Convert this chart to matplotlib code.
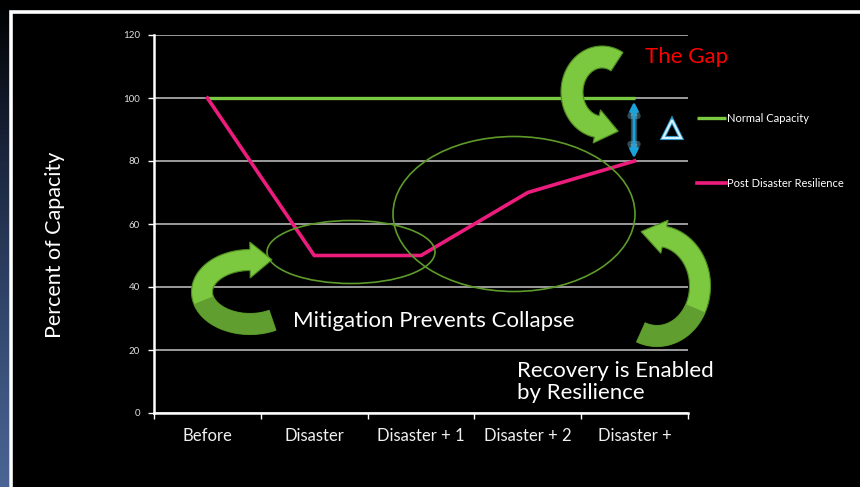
"""Normal capacity vs post-disaster resilience, dark slide-style chart."""

import numpy as np
import matplotlib
matplotlib.use("Agg")
import matplotlib.pyplot as plt
from matplotlib.patches import Ellipse, Polygon, FancyArrowPatch

plt.rcParams["font.family"] = ["Lato", "DejaVu Sans"]

STAGES = ["Before", "Disaster", "Disaster + 1", "Disaster + 2", "Disaster +"]
NORMAL = [100, 100, 100, 100, 100]
POST = [100, 50, 50, 70, 80]
Y_TICKS = [0, 20, 40, 60, 80, 100, 120]

GREEN = "#7AC943"
PINK = "#EC1C7D"
RIB_LIGHT = "#7CC83E"
RIB_DARK = "#5F9E2F"
RING = "#5E9A2A"
W, H = 860, 487


def ribbon(ax, cx, cy, rx, ry, t0, t1, w, head_w, head_len, dark_frac):
    """Curved ribbon arrow along an ellipse arc, in overlay pixel coords."""
    t = np.radians(np.linspace(t0, t1, 120))
    px = cx + rx * np.cos(t)
    py = cy + ry * np.sin(t)
    dx, dy = np.gradient(px), np.gradient(py)
    n = np.hypot(dx, dy)
    nx, ny = -dy / n, dx / n
    left = np.c_[px + nx * w / 2, py + ny * w / 2]
    right = np.c_[px - nx * w / 2, py - ny * w / 2]
    ux, uy = dx[-1] / n[-1], dy[-1] / n[-1]
    bx, by = px[-1], py[-1]
    tip = (bx + ux * head_len, by + uy * head_len)
    hl = (bx + nx[-1] * head_w / 2, by + ny[-1] * head_w / 2)
    hr = (bx - nx[-1] * head_w / 2, by - ny[-1] * head_w / 2)
    poly = np.vstack([left, [hl, tip, hr], right[::-1]])
    ax.add_patch(Polygon(poly, closed=True, fc=RIB_LIGHT, ec="#4E8A22",
                         lw=0.8, zorder=5))
    k = int(len(t) * dark_frac)
    if k > 1:
        part = np.vstack([left[:k], right[:k][::-1]])
        ax.add_patch(Polygon(part, closed=True, fc=RIB_DARK, ec="none",
                             zorder=5.1))


fig = plt.figure(figsize=(W / 100, H / 100), dpi=100, facecolor="black")
ax = fig.add_axes([154 / W, 1 - 413 / H, (688 - 154) / W, (413 - 35) / H])
ax.set_facecolor("black")

x = np.arange(len(STAGES)) + 0.5
ax.plot(x, NORMAL, color=GREEN, lw=2.4, solid_capstyle="butt", zorder=3,
        label="Normal Capacity")
ax.plot(x, POST, color=PINK, lw=2.6, zorder=3,
        label="Post Disaster Resilience")

ax.set_xlim(0, len(STAGES))
ax.set_ylim(0, 120)
ax.set_yticks(Y_TICKS)
ax.set_yticklabels([str(v) for v in Y_TICKS], fontsize=7, color="#E0E0E0")
ax.set_xticks(np.arange(len(STAGES) + 1))
ax.set_xticklabels([])
ax.set_xticks(x, minor=True)
ax.set_xticklabels(STAGES, minor=True, fontsize=12, color="#F0F0F0")
ax.tick_params(axis="x", which="minor", length=0, pad=11)
ax.tick_params(axis="x", which="major", length=4, color="white", width=1)
ax.tick_params(axis="y", length=4, color="white", width=1, pad=6)
ax.grid(axis="y", color="#A8A8A8", lw=1.3, zorder=0)
ax.set_axisbelow(True)
for s in ("top", "right"):
    ax.spines[s].set_visible(False)
for s in ("left", "bottom"):
    ax.spines[s].set_color("white")
    ax.spines[s].set_linewidth(1.8)
ax.set_ylabel("Percent of Capacity", fontsize=15.5, color="white")
ax.yaxis.set_label_coords(-0.167, 0.444)

leg = ax.legend(loc="upper left", bbox_to_anchor=(697 / W, 1 - 113 / H),
                bbox_transform=fig.transFigure, frameon=False, fontsize=8,
                labelcolor="white", handlelength=2.6, handletextpad=0.1,
                labelspacing=4.85, borderpad=0, borderaxespad=0)

# overlay in image pixel coordinates for the slide decorations
ov = fig.add_axes([0, 0, 1, 1], zorder=10)
ov.patch.set_alpha(0)
grad = np.linspace(0, 1, 200)[:, None]
ov.imshow(grad, cmap=matplotlib.colors.LinearSegmentedColormap.from_list(
    "edge", ["#000000", "#1c2740", "#34496f", "#4a6595"]),
    extent=[0, 9, H, 0], aspect="auto", zorder=1)
ov.plot([11, 11, W], [H, 12, 12], color="white", lw=2.6, zorder=2,
        solid_joinstyle="miter")
ov.set_xlim(0, W)
ov.set_ylim(H, 0)
ov.axis("off")

ov.add_patch(Ellipse((351, 252), 168, 63, fc="none", ec=RING, lw=1.2, zorder=4))
ov.add_patch(Ellipse((514, 214), 242, 155, fc="none", ec=RING, lw=1.2, zorder=4))

ribbon(ov, 250, 292, 48, 32, 62, 270, 21, 36, 22, 0.5)
ribbon(ov, 602, 92, 30, 35, 300, 100, 22, 34, 22, 0.0)
ribbon(ov, 657, 286, 43, 50, 112, -80, 21, 34, 24, 0.45)

ov.add_patch(FancyArrowPatch((634, 99), (634, 161), arrowstyle="<|-|>",
                             mutation_scale=13, color="#7FD4F5", lw=4.5,
                             alpha=0.35, zorder=6))
ov.add_patch(FancyArrowPatch((634, 99), (634, 161), arrowstyle="<|-|>",
                             mutation_scale=12, color="#1AA3DA", lw=2,
                             zorder=6.1))
ov.plot([672], [129], marker="^", ms=13, mfc="none", mec="#1F8FC0", mew=3,
        zorder=6)
ov.plot([672], [129], marker="^", ms=13, mfc="none", mec="#D8F0FC", mew=1.6,
        zorder=6.1)

ov.text(645, 57, "The Gap", color="#FF0000", fontsize=16, va="center",
        ha="left", zorder=7)
ov.text(293, 321, "Mitigation Prevents Collapse", color="white", fontsize=16,
        va="center", ha="left", zorder=7)
ov.text(517, 382, "Recovery is Enabled\nby Resilience", color="white",
        fontsize=16, va="center", ha="left", linespacing=1.1, zorder=7)

fig.savefig("out.png", dpi=100, facecolor="black")
